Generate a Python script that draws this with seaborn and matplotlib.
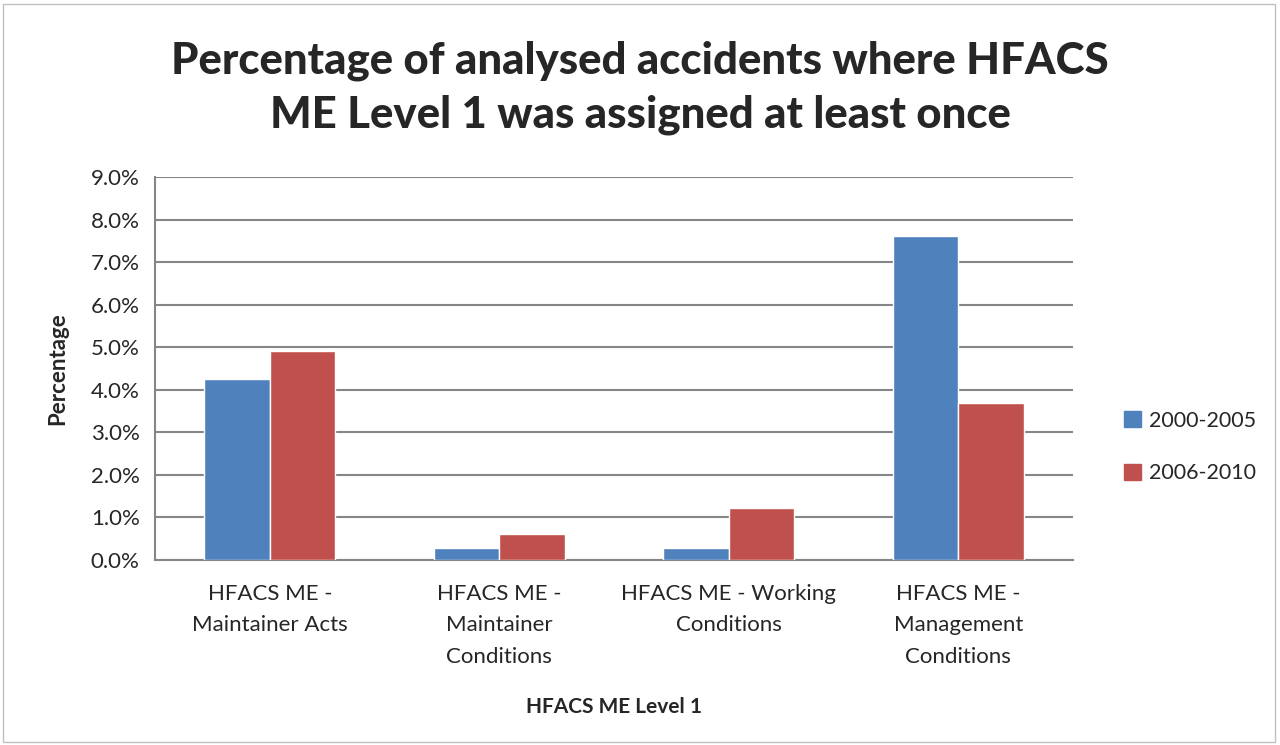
import numpy as np
import pandas as pd
import matplotlib
matplotlib.use("Agg")
import matplotlib.pyplot as plt
import matplotlib.patches as mpatches
import seaborn as sns

# data (percent)
categories = ["HFACS ME -\nMaintainer Acts",
              "HFACS ME -\nMaintainer\nConditions",
              "HFACS ME - Working\nConditions",
              "HFACS ME -\nManagement\nConditions"]
periods = ["2000-2005", "2006-2010"]
pct_2000_2005 = [4.26, 0.29, 0.29, 7.61]
pct_2006_2010 = [4.91, 0.61, 1.22, 3.68]

df = pd.DataFrame({
    "category": categories * 2,
    "period": [periods[0]] * 4 + [periods[1]] * 4,
    "value": pct_2000_2005 + pct_2006_2010,
})

sns.set_theme(style="white")
plt.rcParams["font.family"] = ["Lato", "DejaVu Sans"]

grey = "#868686"
fig = plt.figure(figsize=(12.8, 7.45), dpi=100)
ax = fig.add_axes([155 / 1280, 185 / 745, 918 / 1280, 383 / 745])

sns.barplot(data=df, x="category", y="value", hue="period",
            palette=["#4F81BD", "#C0504D"], width=0.57, saturation=1,
            ax=ax, zorder=3, legend=False)

ax.set_ylim(0, 9)
ax.set_xlim(-0.5, 3.5)
ax.set_yticks(np.arange(0, 9.01, 1))
ax.set_yticklabels([f"{v:.1f}%" for v in np.arange(0, 9.01, 1)], fontsize=16)
ax.yaxis.grid(True, color=grey, linewidth=1.5, zorder=0)
ax.set_axisbelow(True)

ax.tick_params(axis="x", which="major", length=0, labelsize=16, pad=17)
for lab in ax.get_xticklabels():
    lab.set_linespacing(1.72)
ax.set_xticks([-0.5, 0.5, 1.5, 2.5, 3.5], minor=True)
ax.tick_params(axis="x", which="minor", length=7, width=1.5, color=grey, direction="out")
ax.tick_params(axis="y", length=7, width=1.5, color=grey, direction="out", pad=4)

for s in ["top", "right"]:
    ax.spines[s].set_visible(False)
for s in ["left", "bottom"]:
    ax.spines[s].set_color(grey)
    ax.spines[s].set_linewidth(1.5)

ax.set_xlabel("HFACS ME Level 1", fontsize=15, fontweight="bold", labelpad=22)
ax.set_ylabel("Percentage", fontsize=16, fontweight="bold", labelpad=16)

fig.text(0.5, 1 - 88 / 745, "Percentage of analysed accidents where HFACS\nME Level 1 was assigned at least once",
         ha="center", va="center", fontsize=31.5, fontweight="black", linespacing=1.4)

handles = [mpatches.Patch(color=c, label=p) for c, p in zip(["#4F81BD", "#C0504D"], periods)]
fig.legend(handles=handles, loc="center left", bbox_to_anchor=(1105 / 1280, 1 - 447 / 745),
           frameon=False, fontsize=15.5, handlelength=0.75, handleheight=0.75,
           handletextpad=0.4, labelspacing=1.5)

fig.patches.append(mpatches.Rectangle((0.002, 0.004), 0.994, 0.99, transform=fig.transFigure,
                                      fill=False, edgecolor="#bfbfbf", linewidth=1))

fig.savefig("out.png", dpi=100)
